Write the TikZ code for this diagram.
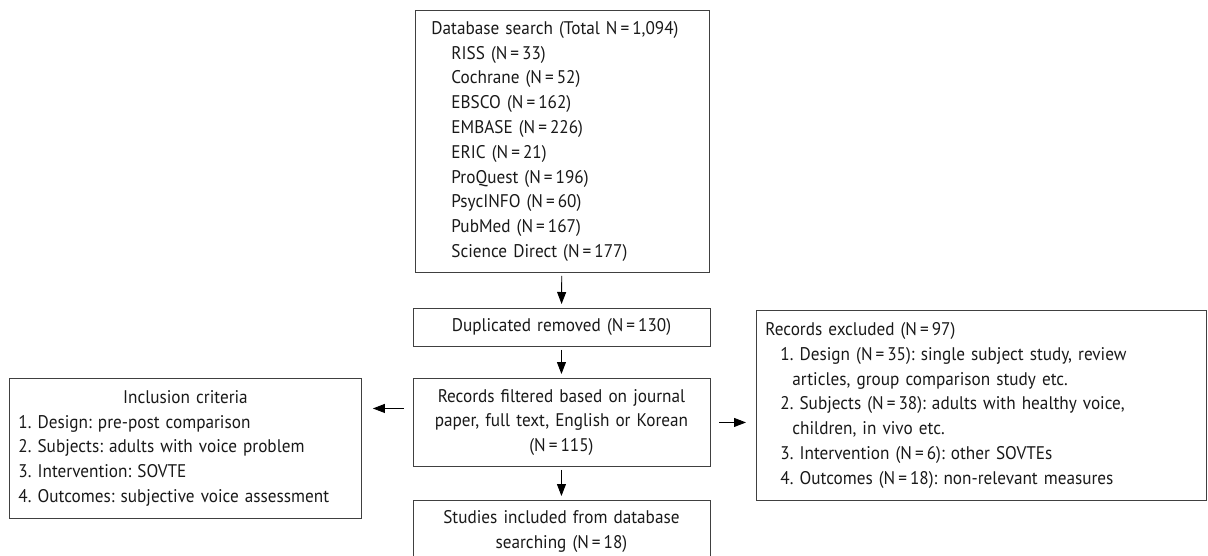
\documentclass[tikz,border=0pt]{standalone}
\usepackage{fontspec}
\setmainfont{PT Sans}[FakeStretch=0.94]
\usetikzlibrary{arrows.meta}

\newcommand{\eq}{\,=\,}
\frenchspacing

\begin{document}
\begin{tikzpicture}[x=1pt, y=-1pt,
    box/.style={draw=black!75, line width=0.9pt, inner ysep=0pt, anchor=north west,
        font=\fontsize{18.3}{24.8}\selectfont\frenchspacing, text=black!90},
    flow/.style={-{Triangle[length=12pt,width=9pt]}, line width=0.9pt, black}]
    \useasboundingbox (0,0) rectangle (1208,555);
    \def\ind{\hspace*{20pt}}

    % main column
    \node[box, inner xsep=16pt, text width=262pt, minimum height=262pt, align=left] (db) at (415,10)
        {Database search (Total N\eq 1,094)\\
         \ind RISS (N\eq 33)\\ \ind Cochrane (N\eq 52)\\ \ind EBSCO (N\eq 162)\\
         \ind EMBASE (N\eq 226)\\ \ind ERIC (N\eq 21)\\ \ind ProQuest (N\eq 196)\\
         \ind PsycINFO (N\eq 60)\\ \ind PubMed (N\eq 167)\\ \ind Science Direct (N\eq 177)};
    \node[box, inner xsep=6pt, text width=285pt, minimum height=38pt, align=center] (dup) at (412.5,308)
        {Duplicated removed (N\eq 130)};
    \node[box, inner xsep=6pt, text width=285pt, minimum height=88pt, align=center] (filt) at (412.5,378)
        {Records filtered based on journal\\ paper, full text, English or Korean\\ (N\eq 115)};
    \node[box, inner xsep=6pt, text width=285pt, minimum height=62pt, align=center] (stud) at (412.5,500)
        {Studies included from database\\ searching (N\eq 18)};

    % side boxes
    \node[box, inner xsep=9pt, text width=334pt, minimum height=140pt, align=left] (incl) at (9,378)
        {\makebox[\linewidth]{Inclusion criteria}\\
         1. Design: pre-post comparison\\
         2. Subjects: adults with voice problem\\
         3. Intervention: SOVTE\\
         4. Outcomes: subjective voice assessment};
    \node[box, inner xsep=9pt, text width=432pt, minimum height=190pt, align=left] (excl) at (756,310)
        {Records excluded (N\eq 97)\\
         \hspace*{15pt}1. Design (N\eq 35): single subject study, review\\
         \hspace*{27pt}articles, group comparison study etc.\\
         \hspace*{15pt}2. Subjects (N\eq 38): adults with healthy voice,\\
         \hspace*{27pt}children, in vivo etc.\\
         \hspace*{15pt}3. Intervention (N\eq 6): other SOVTEs\\
         \hspace*{15pt}4. Outcomes (N\eq 18): non-relevant measures};

    % arrows
    \draw[flow, shorten <=3pt, shorten >=4pt] (db) -- (dup);
    \draw[flow, shorten <=3pt, shorten >=4pt] (dup) -- (filt);
    \draw[flow, shorten <=3pt, shorten >=4pt] (filt) -- (stud);
    \coordinate (lft) at ([yshift=14pt]filt.west);
    \draw[flow, shorten <=9pt, shorten >=11pt] (lft) -- (lft -| incl.east);
    \draw[flow, shorten <=9pt, shorten >=10pt] (filt.east) -- (filt.east -| excl.west);
\end{tikzpicture}
\end{document}
